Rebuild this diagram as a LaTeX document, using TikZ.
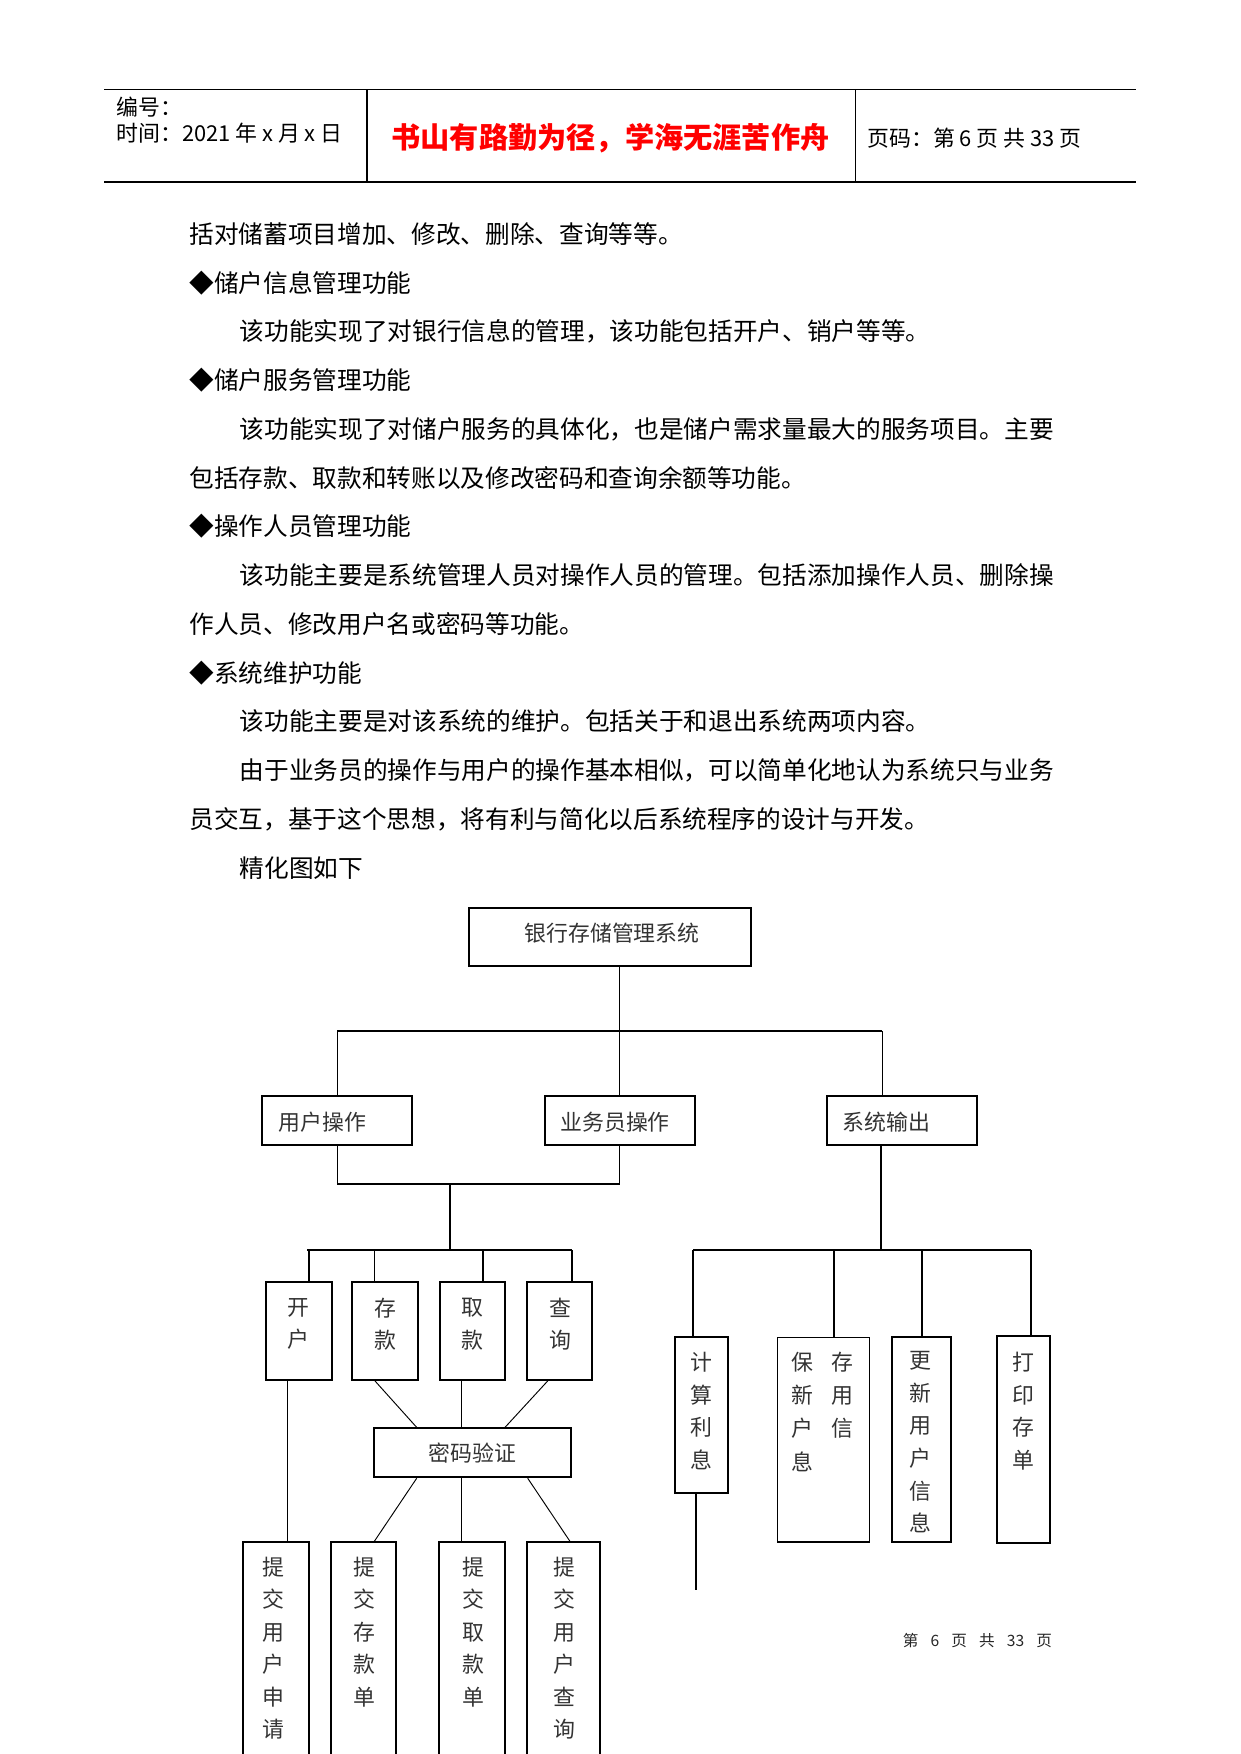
\documentclass[tikz,border=0pt]{standalone}
\usepackage{fontspec}
\setmainfont{Noto Sans CJK SC}
\usetikzlibrary{fit}
\tikzset{
  box/.style={draw,line width=0.9pt,inner sep=0pt},
  thinbox/.style={draw,line width=0.5pt,inner sep=0pt},
  ln/.style={line width=0.9pt},
  tn/.style={line width=0.45pt},
  lab/.style={inner sep=0pt,align=center,text=black!80,font=\fontsize{10.5pt}{15.6pt}\selectfont},
  body/.style={anchor=west,inner sep=0pt,font=\fontsize{11.83pt}{14pt}\selectfont},
  head/.style={anchor=west,inner sep=0pt,font=\fontsize{10.5pt}{13pt}\selectfont},
}
\begin{document}
\begin{tikzpicture}[x=0.47968pt,y=-0.47968pt]
\useasboundingbox (0,0) rectangle (1241,1754);
% header rule
\coordinate (hTL) at (104,89.5); \coordinate (hTR) at (1136,89.5);
\coordinate (hBL) at (104,182);  \coordinate (hBR) at (1136,182);
\coordinate (hv1) at (367,89.5); \coordinate (hv2) at (855,89.5);
\draw[line width=0.5pt] (hTL) -- (hTR);
\draw[line width=0.5pt] (hBL) -- (hBR);
\draw[line width=0.9pt] (hv1) -- (hv1 |- hBL);
\draw[line width=0.45pt] (hv2) -- (hv2 |- hBL);
\node[head] (hnum) at (116,107) {编号：};
\node[head] (htime) at (116,133) {时间：2021 年 x 月 x 日};
\node[inner sep=0pt,text=red,font=\fontsize{14pt}{17pt}\selectfont\bfseries] (hmotto) at (610.5,138) {书山有路勤为径，学海无涯苦作舟};
\node[head] (hpage) at (867,138) {页码：第 6 页 共 33 页};
% body text
\foreach \x/\t [count=\i from 0] in {189/括对储蓄项目增加、修改、删除、查询等等。,
  189/◆储户信息管理功能,
  239.5/该功能实现了对银行信息的管理，该功能包括开户、销户等等。,
  189/◆储户服务管理功能,
  239.5/该功能实现了对储户服务的具体化，也是储户需求量最大的服务项目。主要,
  189/包括存款、取款和转账以及修改密码和查询余额等功能。,
  189/◆操作人员管理功能,
  239.5/该功能主要是系统管理人员对操作人员的管理。包括添加操作人员、删除操,
  189/作人员、修改用户名或密码等功能。,
  189/◆系统维护功能,
  239.5/该功能主要是对该系统的维护。包括关于和退出系统两项内容。,
  239.5/由于业务员的操作与用户的操作基本相似，可以简单化地认为系统只与业务,
  189/员交互，基于这个思想，将有利与简化以后系统程序的设计与开发。,
  239.5/精化图如下}
  \node[body] (line\i) at (\x,{234+48.75*\i}) {\t};
% boxes
\node[box,fit={(469,908) (751,966)}] (sys) {};
\node[box,fit={(262,1096) (412,1145)}] (yhcz) {};
\node[box,fit={(545,1096) (695,1145)}] (ywy) {};
\node[box,fit={(827,1096) (977,1145)}] (xtsc) {};
\node[box,fit={(265.7,1282.3) (332.3,1380)}] (kh) {};
\node[box,fit={(352.3,1282.3) (417.7,1380)}] (ck) {};
\node[box,fit={(439.7,1282.3) (505,1380)}] (qk) {};
\node[box,fit={(526.7,1282.3) (592.3,1380)}] (cx) {};
\node[box,fit={(374.3,1428.3) (570.7,1477.3)}] (mm) {};
\node[box,fit={(243.3,1542.3) (309,1800)}] (tja) {};
\node[box,fit={(330.7,1542.3) (395.7,1800)}] (tjb) {};
\node[box,fit={(439.3,1542.3) (505,1800)}] (tjc) {};
\node[box,fit={(526.7,1542.3) (600,1800)}] (tjd) {};
\node[box,fit={(675,1336.7) (727.7,1493.3)}] (jslx) {};
\node[thinbox,fit={(777.5,1337.3) (869.2,1542)}] (bcxx) {};
\node[box,fit={(891.7,1336.7) (951,1541.7)}] (gxxx) {};
\node[box,fit={(996.7,1335.7) (1050,1543.3)}] (dycd) {};
% labels
\node[lab] (sys-t) at (612,933) {银行存储管理系统};
\node[lab,anchor=west] (yhcz-t) at (278,1122) {用户操作};
\node[lab,anchor=west] (ywy-t) at (560,1122) {业务员操作};
\node[lab,anchor=west] (xtsc-t) at (842,1122) {系统输出};
\node[lab] (kh-t) at (298.5,1324) {开\\户};
\node[lab] (ck-t) at (385,1324) {存\\款};
\node[lab] (qk-t) at (472.5,1324) {取\\款};
\node[lab] (cx-t) at (560,1324) {查\\询};
\node[lab] (mm-t) at (472.5,1453) {密码验证};
\node[lab] (tja-t) at (273,1648.3) {提\\交\\用\\户\\申\\请};
\node[lab] (tjb-t) at (364,1632) {提\\交\\存\\款\\单};
\node[lab] (tjc-t) at (473,1632) {提\\交\\取\\款\\单};
\node[lab] (tjd-t) at (564,1648.3) {提\\交\\用\\户\\查\\询};
\node[lab] (jslx-t) at (701.5,1411) {计\\算\\利\\息};
\node[lab,align=left,font=\fontsize{10.5pt}{16pt}\selectfont] (bcxx-t) at (822,1411.7) {保\hspace{8.7pt}存\\新\hspace{8.7pt}用\\户\hspace{8.7pt}信\\息};
\node[lab] (gxxx-t) at (920,1442.3) {更\\新\\用\\户\\信\\息};
\node[lab] (dycd-t) at (1023,1411) {打\\印\\存\\单};
% first level
\coordinate (busA) at (619.5,1031); \coordinate (busAl) at (337,1031); \coordinate (busAr) at (882,1031);
\draw[ln] (sys.south -| busA) -- (busA);
\draw[ln] (busAl) -- (busAr);
\draw[tn] (busAl) -- (yhcz.north -| busAl);
\draw[ln] (busA) -- (ywy.north -| busA);
\draw[tn] (busAr) -- (xtsc.north -| busAr);
% operations
\coordinate (busB) at (450,1184); \coordinate (busBl) at (337,1184); \coordinate (busBr) at (619.5,1184);
\coordinate (busC) at (450,1250); \coordinate (busCl) at (307.3,1250); \coordinate (busCr) at (571.7,1250);
\draw[tn] (yhcz.south -| busBl) -- (busBl);
\draw[ln] (busBl) -- (busBr) -- (ywy.south -| busBr);
\draw[ln] (busB) -- (busC);
\draw[ln] (busCl) -- (busCr);
\coordinate (dkh) at (308.7,1250); \coordinate (dck) at (374.7,1250);
\coordinate (dqk) at (482.7,1250); \coordinate (dcx) at (571.7,1250);
\foreach \n/\w in {kh/ln,ck/tn,qk/ln,cx/ln}
  \draw[\w] (d\n) -- (\n.north -| d\n);
% password check
\coordinate (ukh) at (287.3,1380); \coordinate (uck) at (375,1380);
\coordinate (uqk) at (461.7,1380); \coordinate (ucx) at (547.7,1380);
\coordinate (mck) at (416.7,1428.3); \coordinate (mcx) at (505,1428.3);
\draw[tn] (kh.south -| ukh) -- (tja.north -| ukh);
\draw[tn] (ck.south -| uck) -- (mm.north -| mck);
\draw[tn] (qk.south -| uqk) -- (mm.north -| uqk);
\draw[tn] (cx.south -| ucx) -- (mm.north -| mcx);
\coordinate (lmb) at (416.7,1477.3); \coordinate (ltb) at (374.3,1542.3);
\coordinate (lmc) at (461.3,1477.3);
\coordinate (lmd) at (527.7,1477.3); \coordinate (ltd) at (570,1542.3);
\draw[tn] (mm.south -| lmb) -- (tjb.north -| ltb);
\draw[tn] (mm.south -| lmc) -- (tjc.north -| lmc);
\draw[tn] (mm.south -| lmd) -- (tjd.north -| ltd);
% system output
\coordinate (busD) at (880.7,1250); \coordinate (busDl) at (693,1250); \coordinate (busDr) at (1031,1250);
\coordinate (dbc) at (833.7,1250); \coordinate (dgx) at (922,1250);
\draw[ln] (xtsc.south -| busD) -- (busD);
\draw[ln] (busDl) -- (busDr);
\draw[ln] (busDl) -- (jslx.north -| busDl);
\draw[ln] (dbc) -- (bcxx.north -| dbc);
\draw[ln] (dgx) -- (gxxx.north -| dgx);
\draw[ln] (busDr) -- (dycd.north -| busDr);
\coordinate (jend) at (695.7,1590);
\draw[ln] (jslx.south -| jend) -- (jend);
% footer
\node[inner sep=0pt,text=black!85,font=\fontsize{7.5pt}{9pt}\selectfont] (foot) at (977.5,1641) {第\hspace{5.8pt}6\hspace{5.8pt}页\hspace{5.8pt}共\hspace{5.8pt}33\hspace{5.8pt}页};
\end{tikzpicture}
\end{document}
